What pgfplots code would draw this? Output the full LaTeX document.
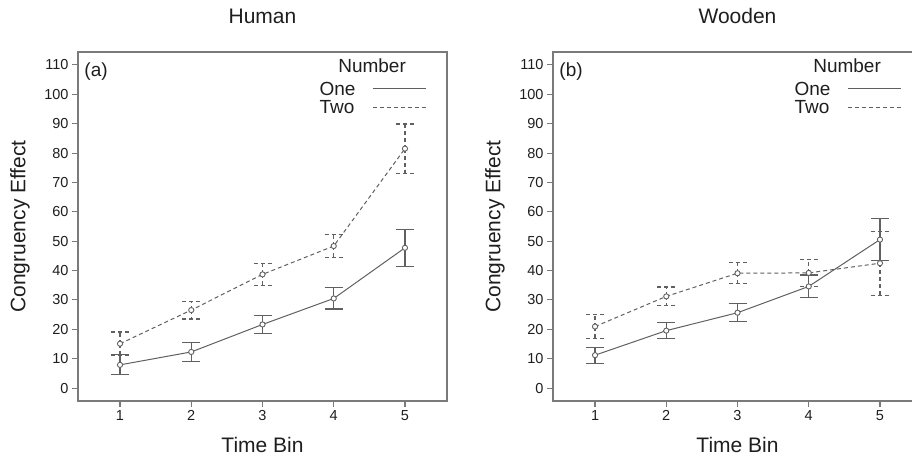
\documentclass[border=0pt]{standalone}
\usepackage{fontspec}
\setmainfont{Liberation Sans}
\usepackage{pgfplots}
\pgfplotsset{compat=1.18}
\usepackage{pgfplotstable}

\definecolor{boxgray}{HTML}{7A7A7A}
\definecolor{linegray}{HTML}{606060}
\definecolor{txt}{HTML}{1E1E1E}

% mean congruency effect and error half-width per time bin
\pgfplotstableread{
x y e
1 7.9 3.4
2 12.3 3.2
3 21.65 2.95
4 30.5 3.6
5 47.75 6.35
}\humanone
\pgfplotstableread{
x y e
1 15.1 4.0
2 26.55 3.05
3 38.7 3.7
4 48.35 3.85
5 81.5 8.4
}\humantwo
\pgfplotstableread{
x y e
1 11.2 2.7
2 19.55 2.65
3 25.65 3.05
4 34.6 3.9
5 50.55 7.25
}\woodenone
\pgfplotstableread{
x y e
1 20.95 4.15
2 31.2 3.2
3 39.1 3.5
4 39.2 4.7
5 42.5 10.9
}\woodentwo

\tikzset{keytext/.style={font=\fontsize{19}{22}\selectfont, text=txt}}

\pgfplotsset{
  panel/.style={
    scale only axis, width=369pt, height=349pt,
    xmin=0.41, xmax=5.59, ymin=-4.4, ymax=114.4,
    xtick={1,2,3,4,5}, ytick={0,10,...,110},
    tick pos=left, tick align=outside,
    major tick length=6pt,
    axis line style={boxgray, line width=1.1pt},
    every tick/.style={boxgray, line width=1.1pt},
    ticklabel style={font=\fontsize{14.5}{16}\selectfont, text=txt},
    /pgf/number format/assume math mode=true,
    xlabel={Time Bin}, ylabel={Congruency Effect},
    every axis x label/.style={at={(axis description cs:0.5,-0.126)}, anchor=center,
      font=\fontsize{21}{24}\selectfont, text=txt},
    every axis y label/.style={at={(axis description cs:-0.157,0.5)}, rotate=90, anchor=center,
      font=\fontsize{21}{24}\selectfont, text=txt},
    title style={at={(axis description cs:0.5,1.086)}, anchor=center,
      font=\fontsize{21}{24}\selectfont, text=txt},
    clip=false,
  },
  one/.style={linegray, line width=1pt, mark=*, mark size=2.6pt,
    mark options={solid, fill=white, line width=0.9pt},
    error bars/y dir=both, error bars/y explicit,
    error bars/error bar style={line width=1.1pt, solid},
    error bars/error mark options={rotate=90, mark size=9pt, line width=1.1pt, solid}},
  two/.style={linegray, line width=1pt, dash pattern=on 4pt off 3pt, mark=*, mark size=2.6pt,
    mark options={solid, fill=white, line width=0.9pt},
    error bars/y dir=both, error bars/y explicit,
    error bars/error bar style={line width=1.1pt, dash pattern=on 4pt off 3pt},
    error bars/error mark options={rotate=90, mark size=9pt, line width=1.1pt, dash pattern=on 4pt off 3pt}},
}

\newcommand{\numberkey}[1]{%
  \node[keytext, anchor=west] at (rel axis cs:0.008,0.943) {#1};
  \node[keytext, anchor=center] at (rel axis cs:0.797,0.960) {Number};
  \node[keytext, anchor=west] at (rel axis cs:0.645,0.894) {One};
  \node[keytext, anchor=west] at (rel axis cs:0.645,0.842) {Two};
  \draw[linegray, line width=1pt] (rel axis cs:0.799,0.894) -- (rel axis cs:0.943,0.894);
  \draw[linegray, line width=1pt, dash pattern=on 4pt off 3pt] (rel axis cs:0.799,0.842) -- (rel axis cs:0.943,0.842);
}

\begin{document}
\begin{tikzpicture}[x=1pt, y=1pt]
\useasboundingbox (0,0) rectangle (912,457);
\clip (0,0) rectangle (912,457);

\begin{axis}[panel, at={(78pt,56pt)}, anchor=south west, title={Human}]
  \addplot[one] table[x=x, y=y, y error=e] {\humanone};
  \addplot[two] table[x=x, y=y, y error=e] {\humantwo};
  \numberkey{(a)}
\end{axis}

\begin{axis}[panel, at={(553pt,56pt)}, anchor=south west, title={Wooden}]
  \addplot[one] table[x=x, y=y, y error=e] {\woodenone};
  \addplot[two] table[x=x, y=y, y error=e] {\woodentwo};
  \numberkey{(b)}
\end{axis}
\end{tikzpicture}
\end{document}
